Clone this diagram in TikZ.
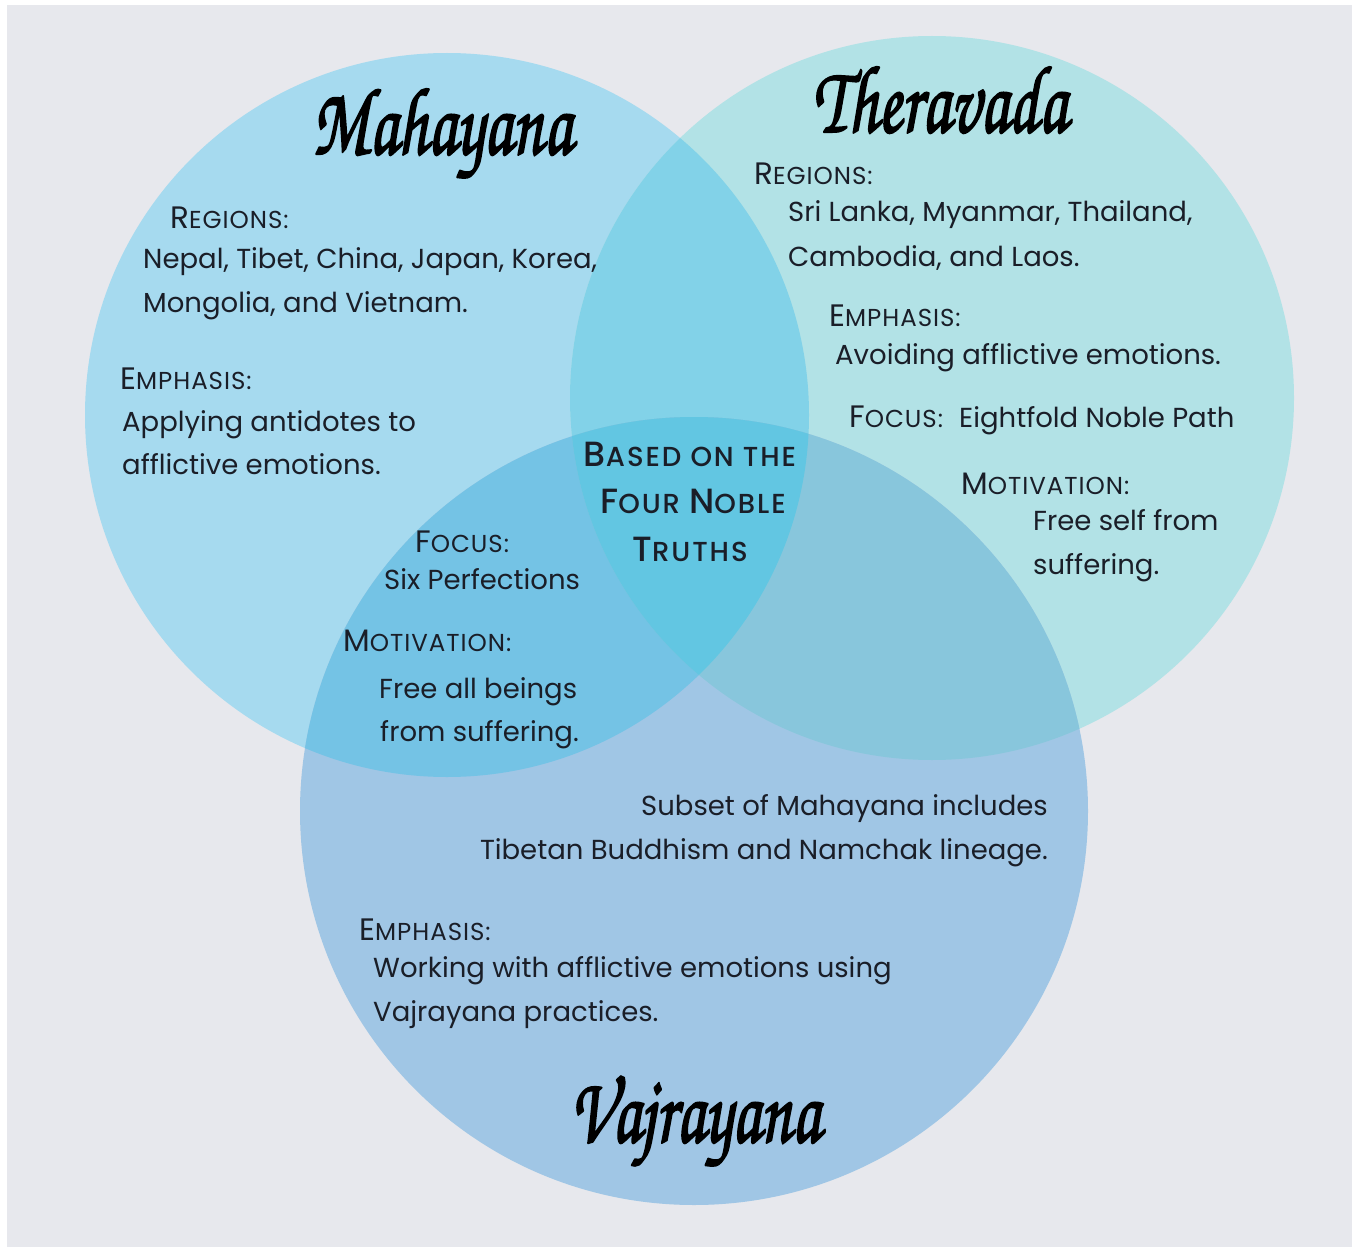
\documentclass[tikz,border=0pt]{standalone}
\usepackage[T1,TU]{fontenc}
\usepackage{fontspec}
\setmainfont{Poppins}
\newfontfamily\capsfont{Poppins}[LetterSpace=4]
\newfontfamily\ctrfont{Poppins Medium}[LetterSpace=7]
\definecolor{bgc}{HTML}{E7E8ED}
\definecolor{mC}{HTML}{A6DAEF}
\definecolor{tC}{HTML}{B2E2E6}
\definecolor{vC}{HTML}{A0C6E5}
\definecolor{mtC}{HTML}{82D2E8}
\definecolor{mvC}{HTML}{74C3E5}
\definecolor{tvC}{HTML}{88C6DC}
\definecolor{allC}{HTML}{62C6E2}
\definecolor{ink}{HTML}{1A1E28}
\newcommand\hd[2]{{\capsfont{\fontsize{31}{31}\selectfont #1}{\fontsize{24.5}{24.5}\selectfont #2}}}
\newcommand\hdc[2]{{\ctrfont{\fontsize{35}{35}\selectfont #1}{\fontsize{27.5}{27.5}\selectfont #2}}}
\newcommand\scr{\fontencoding{T1}\fontfamily{pzc}\fontseries{mb}\fontshape{it}\fontsize{80}{80}\selectfont}
\newcommand\brush[1]{\special{pdf:literal direct 2 Tr 1.8 w 1 j}#1\special{pdf:literal direct 0 Tr 1 w}}
\tikzset{
  txt/.style={anchor=base west, inner sep=0pt, text=ink, font=\fontsize{27.5}{27.5}\selectfont},
  txtr/.style={txt, anchor=base east},
  ctr/.style={anchor=base, inner sep=0pt, text=ink},
  title/.style={anchor=base, inner sep=0pt, text=black, font=\scr}
}
\begin{document}
\begin{tikzpicture}[x=1pt,y=-1pt]
\useasboundingbox (0,0) rectangle (1360,1252);
\fill[white] (0,0) rectangle (1360,1252);
\fill[bgc] (7,5) rectangle (1352,1247);
\coordinate (cM) at (447,415);
\coordinate (cT) at (932,398);
\coordinate (cV) at (694,811);
\fill[mC] (cM) circle[radius=362];
\fill[tC] (cT) circle[radius=362];
\fill[vC] (cV) circle[radius=394];
\begin{scope}
  \clip (cM) circle[radius=362];
  \fill[mtC] (cT) circle[radius=362];
  \fill[mvC] (cV) circle[radius=394];
\end{scope}
\begin{scope}
  \clip (cT) circle[radius=362];
  \fill[tvC] (cV) circle[radius=394];
\end{scope}
\begin{scope}
  \clip (cM) circle[radius=362];
  \clip (cT) circle[radius=362];
  \fill[allC] (cV) circle[radius=394];
\end{scope}

% titles
\node[title] (tM) at (442,154) {\scalebox{0.85}[1.2]{\brush{Mahayana}}};
\node[title] (tT) at (940,132) {\scalebox{0.85}[1.2]{\brush{Theravada}}};
\node[title] (tV) at (695,1142) {\scalebox{0.85}[1.2]{\brush{Vajrayana}}};

% Mahayana
\node[txt] (mR) at (170,229) {\hd{R}{EGIONS:}};
\node[txt] (mR1) at (143,269) {Nepal, Tibet, China, Japan, Korea,};
\node[txt] (mR2) at (143,312) {Mongolia, and Vietnam.};
\node[txt] (mE) at (120,389) {\hd{E}{MPHASIS:}};
\node[txt] (mE1) at (122,431) {Applying antidotes to};
\node[txt] (mE2) at (122,474) {afflictive emotions.};
\node[txt] (mF) at (415,552) {\hd{F}{OCUS:}};
\node[txt] (mF1) at (384,589) {Six Perfections};
\node[txt] (mM) at (343,651) {\hd{M}{OTIVATION:}};
\node[txt] (mM1) at (379,698) {Free all beings};
\node[txt] (mM2) at (380,741) {from suffering.};

% Theravada
\node[txt] (tR) at (754,185) {\hd{R}{EGIONS:}};
\node[txt] (tR1) at (788,222) {Sri Lanka, Myanmar, Thailand,};
\node[txt] (tR2) at (788,266) {Cambodia, and Laos.};
\node[txt] (tE) at (829,326) {\hd{E}{MPHASIS:}};
\node[txt] (tE1) at (835,364) {Avoiding afflictive emotions.};
\node[txt] (tF) at (849,427) {\hd{F}{OCUS:}};
\node[txt] (tF1) at (959,427) {Eightfold Noble Path};
\node[txt] (tM1) at (961,494) {\hd{M}{OTIVATION:}};
\node[txt] (tM2) at (1033,530) {Free self from};
\node[txt] (tM3) at (1033,574) {suffering.};

% center
\node[ctr] (c1) at (690,466) {\hdc{B}{ASED ON THE}};
\node[ctr] (c2) at (693,513) {\hdc{F}{OUR }\hdc{N}{OBLE}};
\node[ctr] (c3) at (690,561) {\hdc{T}{RUTHS}};

% Vajrayana
\node[txtr] (v1) at (1048,815) {Subset of Mahayana includes};
\node[txtr] (v2) at (1048,859) {Tibetan Buddhism and Namchak lineage.};
\node[txt] (vE) at (359,940) {\hd{E}{MPHASIS:}};
\node[txt] (vE1) at (373,977) {Working with afflictive emotions using};
\node[txt] (vE2) at (373,1021) {Vajrayana practices.};
\end{tikzpicture}
\end{document}
